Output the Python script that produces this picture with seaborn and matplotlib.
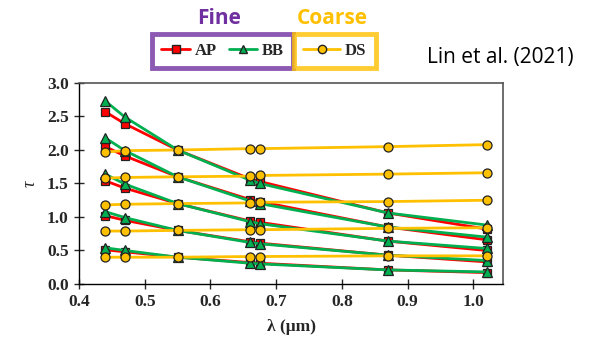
import numpy as np
import pandas as pd
import matplotlib
matplotlib.use("Agg")
import matplotlib.pyplot as plt
from matplotlib.lines import Line2D
import seaborn as sns

# wavelengths (um)
wl = [0.44, 0.47, 0.55, 0.66, 0.675, 0.87, 1.02]

# fine mode: AP (red squares)
AP_04 = [0.51, 0.48, 0.40, 0.32, 0.31, 0.21, 0.17]
AP_08 = [1.02, 0.95, 0.80, 0.63, 0.61, 0.43, 0.33]
AP_12 = [1.54, 1.43, 1.20, 0.94, 0.92, 0.64, 0.50]
AP_16 = [2.05, 1.91, 1.60, 1.26, 1.23, 0.85, 0.66]
AP_20 = [2.57, 2.39, 2.00, 1.57, 1.53, 1.06, 0.82]

# fine mode: BB (green triangles)
BB_04 = [0.54, 0.50, 0.40, 0.31, 0.30, 0.21, 0.18]
BB_08 = [1.08, 0.99, 0.80, 0.62, 0.60, 0.43, 0.35]
BB_12 = [1.64, 1.49, 1.20, 0.93, 0.90, 0.64, 0.53]
BB_16 = [2.18, 1.99, 1.60, 1.24, 1.20, 0.85, 0.70]
BB_20 = [2.73, 2.49, 2.00, 1.55, 1.50, 1.06, 0.88]

# coarse mode: DS (yellow circles)
DS_04 = [0.40, 0.40, 0.40, 0.41, 0.41, 0.42, 0.42]
DS_08 = [0.79, 0.79, 0.80, 0.81, 0.81, 0.83, 0.84]
DS_12 = [1.18, 1.19, 1.20, 1.21, 1.22, 1.23, 1.25]
DS_16 = [1.58, 1.59, 1.60, 1.61, 1.62, 1.64, 1.66]
DS_20 = [1.97, 1.99, 2.00, 2.02, 2.02, 2.05, 2.08]

RED = "#FF0000"
GREEN = "#00B050"
YELLOW = "#FFC000"
PURPLE = "#7030A0"

sns.set_style("ticks")
plt.rcParams['font.family'] = ['Liberation Serif', 'DejaVu Serif']

fig = plt.figure(figsize=(5.91, 3.5), dpi=100)
ax = fig.add_axes([0.1337, 0.1886, 0.7174, 0.5743])

series = [
    ("AP", [AP_04, AP_08, AP_12, AP_16, AP_20], RED, "s", 6),
    ("BB", [BB_04, BB_08, BB_12, BB_16, BB_20], GREEN, "^", 6.5),
    ("DS", [DS_04, DS_08, DS_12, DS_16, DS_20], YELLOW, "o", 6.5),
]

for name, groups, col, mk, ms in series:
    for vals in groups:
        sns.lineplot(x=wl, y=vals, ax=ax, color=col, lw=2, marker=mk,
                     markersize=ms, markeredgecolor="#222222", markeredgewidth=0.9,
                     markerfacecolor=col, errorbar=None)

ax.set_xlim(0.4, 1.045)
ax.set_ylim(0, 3.0)
ax.set_xticks(np.arange(0.4, 1.01, 0.1))
ax.set_yticks(np.arange(0, 3.01, 0.5))
ax.set_xticklabels([f"{v:.1f}" for v in np.arange(0.4, 1.01, 0.1)])
ax.set_yticklabels([f"{v:.1f}" for v in np.arange(0, 3.01, 0.5)])
ax.tick_params(direction="inout", length=7, width=1, labelsize=12.5, pad=4)
for lab in ax.get_xticklabels() + ax.get_yticklabels():
    lab.set_fontweight("bold")
for s in ["top", "right"]:
    ax.spines[s].set_color("#555555")
    ax.spines[s].set_linewidth(1.2)
for s in ["left", "bottom"]:
    ax.spines[s].set_color("black")
    ax.spines[s].set_linewidth(1.0)

ax.set_xlabel("λ (μm)", fontsize=12.5, fontweight="bold", labelpad=6)
ax.set_ylabel("τ", fontsize=13, fontstyle="italic", labelpad=6)

# legends
h_ap = Line2D([], [], color=RED, lw=2, marker="s", markersize=6,
              markeredgecolor="#222222", markerfacecolor=RED)
h_bb = Line2D([], [], color=GREEN, lw=2, marker="^", markersize=6,
              markeredgecolor="#222222", markerfacecolor=GREEN)
h_ds = Line2D([], [], color=YELLOW, lw=2, marker="o", markersize=6,
              markeredgecolor="#222222", markerfacecolor=YELLOW)

leg_kw = dict(frameon=True, fancybox=False, handlelength=1.7, handletextpad=0.3,
              borderpad=0.55, columnspacing=0.7, borderaxespad=0,
              prop={"family": "Liberation Serif", "weight": "bold", "size": 12})
leg1 = fig.legend([h_ap, h_bb], ["AP", "BB"], ncol=2, loc="center right",
                  bbox_to_anchor=(293 / 591, 1 - 51 / 350), **leg_kw)
leg1.get_frame().set_edgecolor(PURPLE)
leg1.get_frame().set_linewidth(3.5)
leg2 = fig.legend([h_ds], ["DS"], loc="center left",
                  bbox_to_anchor=(294 / 591, 1 - 51 / 350),
                  **{**leg_kw, "handlelength": 2.2})
leg2.get_frame().set_edgecolor(YELLOW)
leg2.get_frame().set_linewidth(3.5)

fig.text(219 / 591, 1 - 19 / 350, "Fine", color=PURPLE, fontsize=15,
         fontweight="bold", family="Open Sans", ha="center", va="center")
fig.text(332 / 591, 1 - 19 / 350, "Coarse", color=YELLOW, fontsize=15,
         fontweight="bold", family="Open Sans", ha="center", va="center")
fig.text(500 / 591, 1 - 57 / 350, "Lin et al. (2021)", color="black", fontsize=15,
         family="Open Sans", ha="center", va="center")

fig.savefig("out.png", dpi=100)
